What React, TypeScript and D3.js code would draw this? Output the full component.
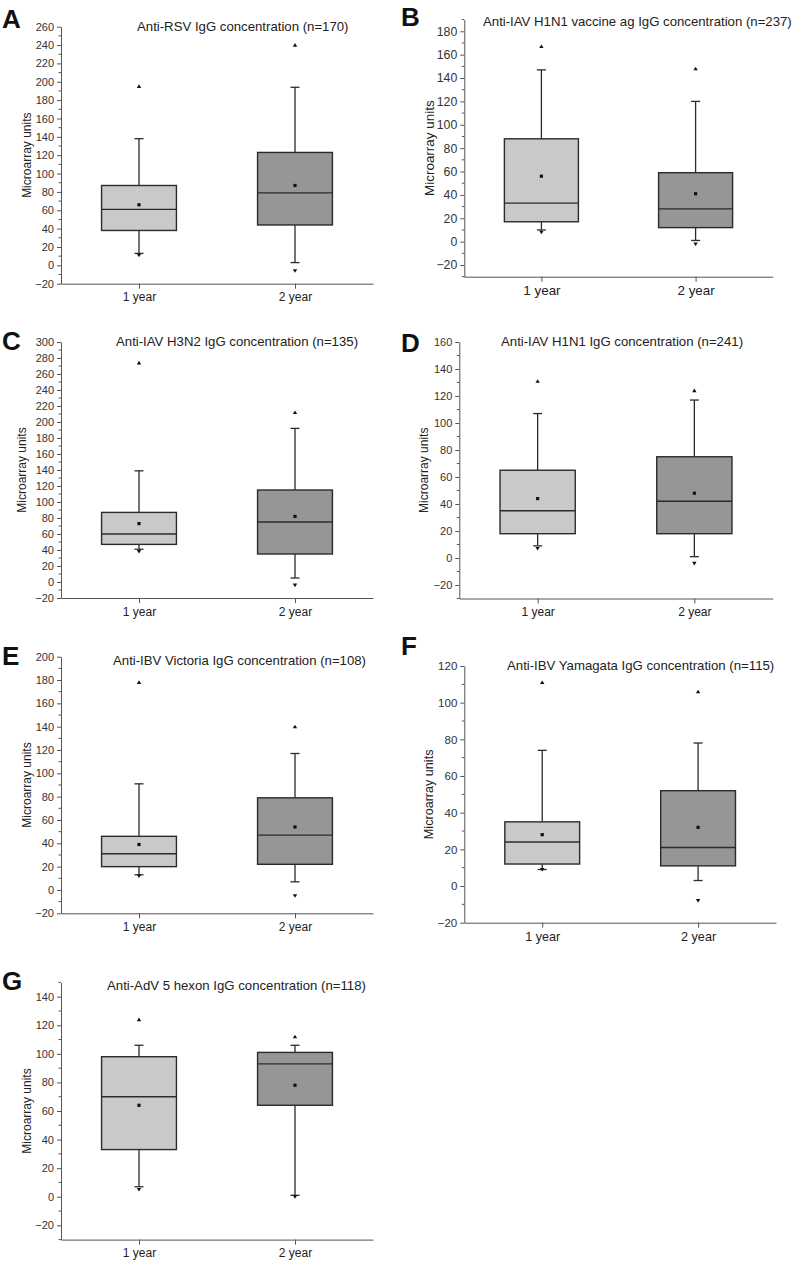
import { useEffect, useRef } from 'react';
import * as d3 from 'd3';

// data (Microarray units)
const categories = ['1 year', '2 year'];
const letters = ['A', 'B', 'C', 'D', 'E', 'F', 'G'];
const titles = [
  'Anti-RSV IgG concentration (n=170)',
  'Anti-IAV H1N1 vaccine ag IgG concentration (n=237)',
  'Anti-IAV H3N2 IgG concentration (n=135)',
  'Anti-IAV H1N1 IgG concentration (n=241)',
  'Anti-IBV Victoria IgG concentration (n=108)',
  'Anti-IBV Yamagata IgG concentration (n=115)',
  'Anti-AdV 5 hexon IgG concentration (n=118)',
];
const yDomains = [[-20, 260], [-30, 190], [-20, 300], [-30, 160], [-20, 200], [-20, 120], [-30, 150]];

// each row: [1 year, 2 year]
const minPoints = [[11, -6], [8, -2], [38, -4], [7, -4], [12, -5], [9, -8], [5, 0]];
const whiskerLow = [[13, 3], [10, 1], [41, 5], [9, 1], [13, 7], [9, 3], [7, 1]];
const q1 = [[38, 44], [17, 12], [47, 35], [18, 18], [20, 22], [12, 11], [33, 64]];
const medians = [[61, 79], [33, 28], [60, 75], [35, 42], [31, 47], [24, 21], [70, 93]];
const q3 = [[87, 123], [88, 59], [87, 115], [65, 75], [46, 79], [35, 52], [98, 101]];
const whiskerHigh = [[138, 194], [147, 120], [139, 192], [107, 117], [91, 117], [74, 78], [106, 106]];
const maxPoints = [[195, 240], [167, 148], [274, 212], [131, 124], [178, 140], [111, 106], [124, 112]];
const means = [[66, 87], [56, 41], [73, 82], [44, 48], [39, 54], [28, 32], [64, 78]];

// frame of each panel in page pixels
const frames = [
  { x0: 61, x1: 373, yb: 283.7, yt: 26.7, lx: 2, ly: 28, tx: 137, ty: 31, yl: 27, fs: 1 },
  { x0: 464.3, x1: 772.7, yb: 276.7, yt: 19.6, lx: 401, ly: 26, tx: 483, ty: 26, yl: 429, fs: 1.12 },
  { x0: 61, x1: 373, yb: 598, yt: 342, lx: 2, ly: 350, tx: 116, ty: 346, yl: 22, fs: 1 },
  { x0: 459.3, x1: 772.7, yb: 598.5, yt: 342, lx: 401, ly: 352, tx: 501, ty: 346, yl: 424, fs: 1 },
  { x0: 61, x1: 373, yb: 913.3, yt: 656.7, lx: 2, ly: 665, tx: 113, ty: 665, yl: 27, fs: 1 },
  { x0: 464.3, x1: 776, yb: 922.7, yt: 666, lx: 401, ly: 655, tx: 507, ty: 670, yl: 429, fs: 1.05 },
  { x0: 61, x1: 373, yb: 1239.6, yt: 982.4, lx: 2, ly: 990, tx: 107, ty: 990, yl: 27, fs: 1 },
];

const fills = ['#c8c9cb', '#959698'];
const FONT = '"Liberation Sans", Arial, Helvetica, sans-serif';

const App = () => {
  const svgRef = useRef<SVGSVGElement>(null);

  useEffect(() => {
    if (!svgRef.current) return;
    const svg = d3.select(svgRef.current);
    svg.selectAll('*').remove();

    frames.forEach((f, p) => {
      const g = svg.append('g').style('font-family', FONT);
      const [lo, hi] = yDomains[p];

      const y = d3.scaleLinear().domain([lo, hi]).range([f.yb, f.yt]);
      const x = d3.scalePoint<string>().domain(categories).range([f.x0, f.x1]).padding(0.5);
      const boxW = x.step() * 0.48;

      // y axis: labels every 20, minor ticks every 10
      const majors = d3.range(Math.ceil(lo / 20) * 20, hi + 1, 20);
      const minors = d3.range(Math.ceil(lo / 10) * 10, hi + 1, 10).filter(v => v % 20 !== 0);

      const yAxis = g.append('g')
        .attr('transform', `translate(${f.x0},0)`)
        .call(d3.axisLeft(y).tickValues(majors).tickSize(4).tickSizeOuter(0).tickPadding(3));
      yAxis.select('.domain').attr('stroke', '#555');
      yAxis.selectAll('.tick line').attr('stroke', '#555');
      yAxis.selectAll('.tick text')
        .attr('fill', '#333')
        .style('font-size', `${11 * f.fs}px`)
        .style('font-family', FONT);

      g.append('g')
        .selectAll('line')
        .data(minors)
        .enter()
        .append('line')
        .attr('x1', f.x0 - 2.5)
        .attr('x2', f.x0)
        .attr('y1', d => y(d))
        .attr('y2', d => y(d))
        .attr('stroke', '#555');

      // x axis
      const xAxis = g.append('g')
        .attr('transform', `translate(0,${f.yb})`)
        .call(d3.axisBottom(x).tickSize(5).tickSizeOuter(0).tickPadding(4));
      xAxis.select('.domain').attr('stroke', '#555');
      xAxis.selectAll('.tick line').attr('stroke', '#555');
      xAxis.selectAll('.tick text')
        .attr('fill', '#222')
        .style('font-size', `${12 * f.fs}px`)
        .style('font-family', FONT);

      // boxes
      categories.forEach((c, i) => {
        const cx = x(c) as number;
        const stroke = '#2b2b2b';

        // whiskers
        g.append('line')
          .attr('x1', cx).attr('x2', cx)
          .attr('y1', y(whiskerHigh[p][i])).attr('y2', y(q3[p][i]))
          .attr('stroke', stroke).attr('stroke-width', 1.3);
        g.append('line')
          .attr('x1', cx).attr('x2', cx)
          .attr('y1', y(q1[p][i])).attr('y2', y(whiskerLow[p][i]))
          .attr('stroke', stroke).attr('stroke-width', 1.3);
        [whiskerHigh[p][i], whiskerLow[p][i]].forEach(v => {
          g.append('line')
            .attr('x1', cx - 4.5).attr('x2', cx + 4.5)
            .attr('y1', y(v)).attr('y2', y(v))
            .attr('stroke', stroke).attr('stroke-width', 1.3);
        });

        g.append('rect')
          .attr('x', cx - boxW / 2)
          .attr('y', y(q3[p][i]))
          .attr('width', boxW)
          .attr('height', y(q1[p][i]) - y(q3[p][i]))
          .attr('fill', fills[i])
          .attr('stroke', stroke)
          .attr('stroke-width', 1.4);

        g.append('line')
          .attr('x1', cx - boxW / 2).attr('x2', cx + boxW / 2)
          .attr('y1', y(medians[p][i])).attr('y2', y(medians[p][i]))
          .attr('stroke', stroke).attr('stroke-width', 1.4);

        // mean
        g.append('rect')
          .attr('x', cx - 1.6).attr('y', y(means[p][i]) - 1.6)
          .attr('width', 3.2).attr('height', 3.2)
          .attr('fill', '#111');

        // max / min markers
        const my = y(maxPoints[p][i]);
        g.append('path')
          .attr('d', `M${cx - 2.2},${my + 1.6}L${cx + 2.2},${my + 1.6}L${cx},${my - 2}Z`)
          .attr('fill', '#111');
        const ny = y(minPoints[p][i]);
        g.append('path')
          .attr('d', `M${cx - 2.2},${ny - 1.6}L${cx + 2.2},${ny - 1.6}L${cx},${ny + 2}Z`)
          .attr('fill', '#111');
      });

      // titles and labels
      g.append('text')
        .attr('x', f.tx)
        .attr('y', f.ty)
        .style('font-size', '13.2px')
        .attr('fill', '#222')
        .text(titles[p]);

      g.append('text')
        .attr('transform', `translate(${f.yl},${(f.yt + f.yb) / 2}) rotate(-90)`)
        .attr('text-anchor', 'middle')
        .attr('dy', '0.35em')
        .style('font-size', `${12 * f.fs}px`)
        .attr('fill', '#222')
        .text('Microarray units');

      g.append('text')
        .attr('x', f.lx)
        .attr('y', f.ly)
        .style('font-size', '26px')
        .style('font-weight', 'bold')
        .attr('fill', '#111')
        .text(letters[p]);
    });
  }, []);

  return (
    <svg
      ref={svgRef}
      width={793}
      height={1261}
      style={{ position: 'absolute', left: 0, top: 0, background: '#fff' }}
    ></svg>
  );
};

export default App;
